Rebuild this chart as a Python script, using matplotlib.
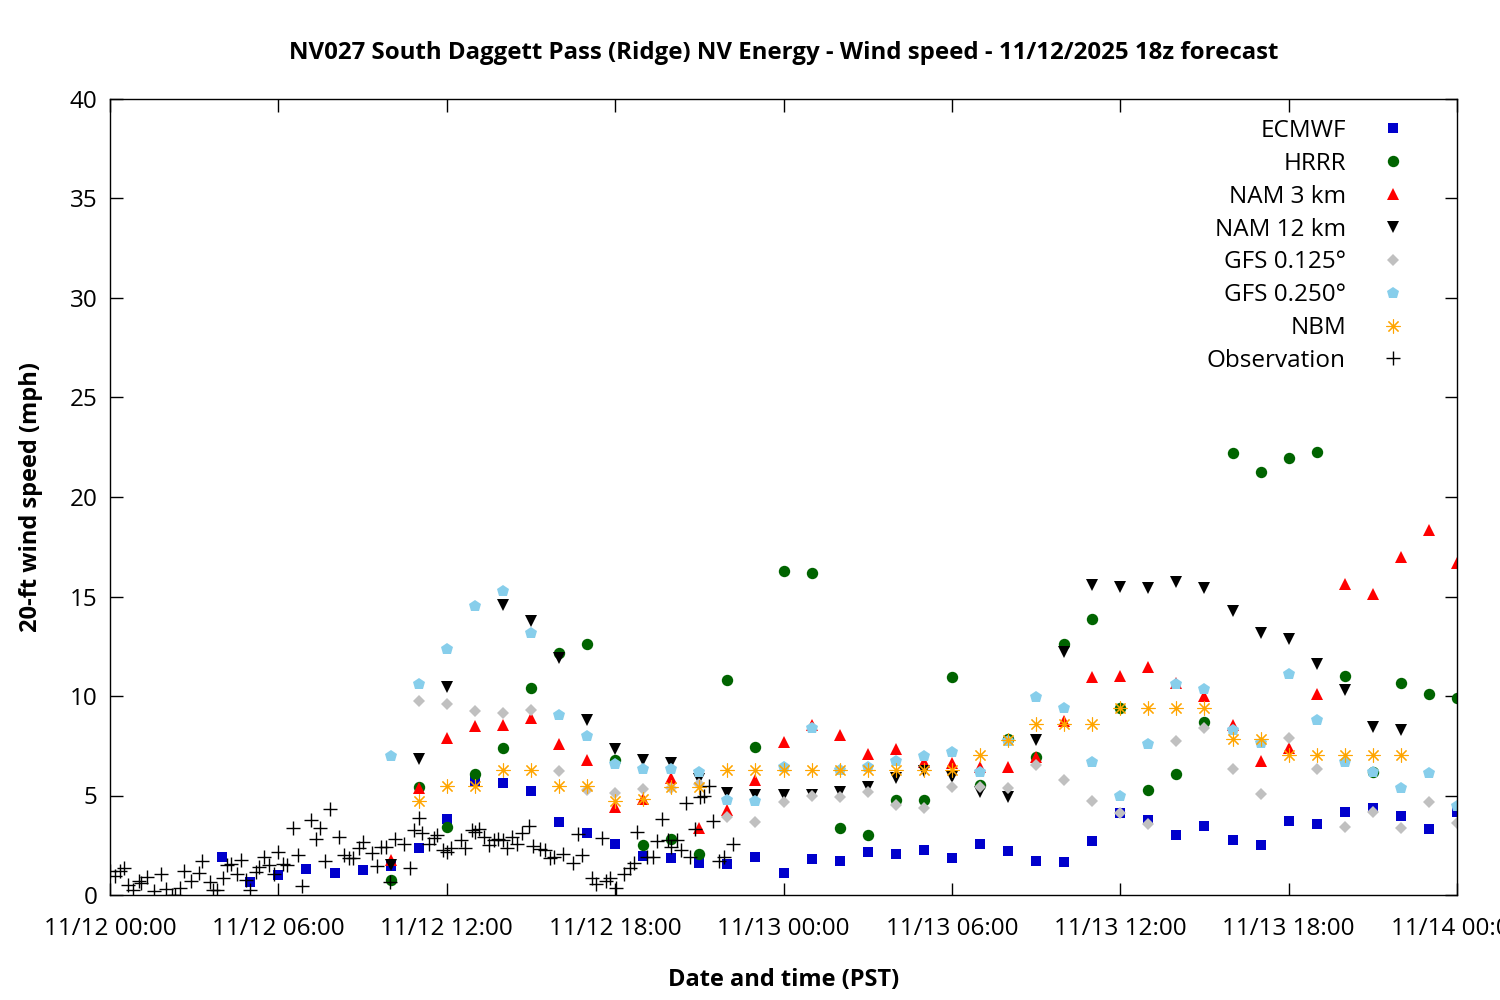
import numpy as np
import pandas as pd
import matplotlib
matplotlib.use('Agg')
import matplotlib.pyplot as plt
import matplotlib.dates as mdates

plt.rcParams['font.family'] = ['Open Sans', 'DejaVu Sans']

# ---------------- data ----------------
base_time = pd.Timestamp('2025-11-12 00:00')

ecmwf_hours = list(range(4, 49))
ecmwf = [1.9, 0.65, 1.0, 1.3, 1.1, 1.25, 1.45, 2.35, 3.8, 5.75, 5.63, 5.23, 3.65, 3.1, 2.56,
         1.98, 1.84, 1.61, 1.56, 1.89, 1.09, 1.79, 1.71, 2.15, 2.06, 2.26, 1.84, 2.55, 2.19,
         1.71, 1.64, 2.71, 4.14, 3.76, 3.0, 3.45, 2.75, 2.5, 3.71, 3.55, 4.16, 4.36, 3.95,
         3.3, 4.16]

hrrr_hours = list(range(10, 49))
hrrr = [0.75, 5.44, 3.42, 6.08, 7.4, 10.4, 12.18, 12.6, 6.78, 2.51, 2.81, 2.06, 10.79, 7.42,
        16.3, 16.2, 3.35, 3.0, 4.77, 4.77, 10.95, 5.53, 7.84, 6.92, 12.6, 13.85, 9.38, 5.28,
        6.06, 8.69, 22.2, 21.24, 21.94, 22.24, 10.99, 6.2, 10.64, 10.08, 9.88]

nam3_hours = list(range(10, 49))
nam3 = [1.76, 5.4, 7.9, 8.5, 8.56, 8.91, 7.6, 6.78, 4.4, 4.82, 5.9, 3.38, 4.27, 5.78, 7.7,
        8.54, 8.04, 7.09, 7.34, 6.7, 6.65, 6.45, 6.45, 6.95, 8.76, 10.97, 11.0, 11.48, 10.67,
        10.0, 8.54, 6.75, 7.37, 10.1, 15.63, 15.13, 17.0, 18.34, 16.7]

nam12_hours = list(range(10, 47))
nam12 = [1.5, 6.85, 10.47, np.nan, 14.57, 13.78, 11.9, 8.78, 7.32, 6.78, 6.65, 5.81, 5.11,
         5.03, 5.03, 5.03, 5.19, 5.44, 5.86, 6.25, 5.91, 5.16, 4.94, 7.77, 12.23, 15.56,
         15.46, 15.41, 15.71, 15.41, 14.29, 13.15, 12.86, 11.59, 10.3, 8.43, 8.29]

gfs125_hours = list(range(11, 49))
gfs125 = [9.75, 9.6, 9.25, 9.13, 9.31, 6.23, 5.28, 5.11, 5.33, 5.36, 5.6, 3.92, 3.65, 4.66,
          5.0, 4.94, 5.16, 4.52, 4.36, 5.44, 5.44, 5.36, 6.52, 5.78, 4.72, 4.13, 3.55, 7.75,
          8.38, 6.32, 5.06, 7.87, 6.32, 3.4, 4.16, 3.35, 4.66, 3.6]

gfs250_hours = list(range(10, 49))
gfs250 = [7.0, 10.6, 12.35, 14.52, 15.26, 13.17, 9.05, 7.97, 6.58, 6.32, 6.35, 6.2, 4.77,
          4.72, 6.45, 8.38, 6.28, 6.45, 6.73, 6.98, 7.19, 6.17, 7.75, 9.97, 9.38, 6.66, 4.97,
          7.59, 10.6, 10.34, 8.29, 7.65, 11.09, 8.79, 6.68, 6.2, 5.36, 6.11, 4.49]

nbm_hours = list(range(11, 47))
nbm = [4.72, 5.46, 5.46, 6.26, 6.26, 5.46, 5.46, 4.7, 4.8, 5.44, 5.44, 6.28, 6.28, 6.28,
       6.28, 6.28, 6.28, 6.28, 6.28, 6.28, 7.04, 7.8, 8.57, 8.57, 8.57, 9.38, 9.38, 9.38,
       9.38, 7.82, 7.82, 7.04, 7.04, 7.04, 7.04, 7.04]

obs_minutes = [0, 10, 22, 31, 38, 50, 61, 67, 79, 94, 110, 119, 132, 139, 149, 158, 174,
               190, 197, 214, 221, 228, 241, 251, 258, 271, 281, 291, 299, 312, 319, 329,
               341, 350, 360, 369, 379, 391, 401, 410, 430, 440, 449, 460, 470, 490, 501,
               511, 520, 532, 541, 560, 570, 580, 590, 599, 610, 629, 641, 650, 660, 668,
               683, 692, 699, 712, 721, 730, 751, 758, 773, 781, 790, 799, 811, 820, 830,
               840, 849, 860, 870, 880, 896, 905, 919, 929, 940, 949, 968, 990, 1001, 1009,
               1031, 1040, 1051, 1061, 1069, 1081, 1100, 1111, 1120, 1127, 1148, 1160, 1170,
               1181, 1192, 1200, 1213, 1220, 1231, 1240, 1250, 1262, 1270, 1281, 1290, 1302,
               1312, 1331]
obs = [1.21, 0.97, 1.21, 1.34, 0.5, 0.25, 0.7, 0.59, 0.92, 0.2, 1.04, 0.3, 0.0, 0.0, 0.33,
       1.21, 0.7, 1.09, 1.71, 0.64, 0.25, 0.25, 0.87, 1.51, 1.54, 1.04, 1.76, 0.75, 0.25,
       1.14, 1.42, 1.92, 1.51, 1.04, 2.14, 1.54, 1.51, 3.35, 2.01, 0.47, 3.77, 2.83, 3.35,
       1.71, 4.32, 2.93, 2.01, 1.88, 1.84, 2.38, 2.68, 2.09, 1.47, 2.43, 2.43, 0.64, 2.81,
       2.55, 1.37, 3.27, 3.85, 3.1, 2.55, 2.85, 3.02, 2.26, 2.18, 2.35, 2.76, 2.35, 3.27,
       3.18, 3.32, 2.93, 2.51, 2.76, 2.81, 2.76, 2.38, 2.93, 2.55, 3.1, 3.45, 2.45, 2.31,
       2.26, 1.88, 1.93, 2.05, 1.59, 3.05, 2.01, 0.87, 0.54, 2.85, 0.7, 0.84, 0.33, 1.04,
       1.34, 1.59, 3.18, 1.89, 1.93, 2.73, 3.8, 2.76, 2.39, 2.76, 2.26, 4.61, 1.93, 3.3,
       4.91, 4.97, 5.48, 3.73, 1.72, 1.89, 2.56]

labels = ['ECMWF', 'HRRR', 'NAM 3 km', 'NAM 12 km', 'GFS 0.125°', 'GFS 0.250°', 'NBM',
          'Observation']
title = 'NV027 South Daggett Pass (Ridge) NV Energy - Wind speed - 11/12/2025 18z forecast'


def to_time(hours):
    return base_time + pd.to_timedelta(hours, unit='h')


# ---------------- figure ----------------
fig = plt.figure(figsize=(15, 10), dpi=100)
ax = fig.add_axes([110 / 1500, 1 - 895 / 1000, (1457 - 110) / 1500, (895 - 99) / 1000])

series = [
    (ecmwf_hours, ecmwf, dict(marker='s', color='#0000cc', ms=6.8)),
    (hrrr_hours, hrrr, dict(marker='o', color='#006400', ms=8.2)),
    (nam3_hours, nam3, dict(marker='^', color='#ff0000', ms=9.0)),
    (nam12_hours, nam12, dict(marker='v', color='#000000', ms=9.0)),
    (gfs125_hours, gfs125, dict(marker='D', color='#c0c0c0', ms=6.4)),
    (gfs250_hours, gfs250, dict(marker='p', color='#87ceeb', ms=9.2)),
]
for (h, v, st), lab in zip(series, labels):
    ax.plot(to_time(h), v, linestyle='none', marker=st['marker'], ms=st['ms'],
            color=st['color'], markeredgewidth=0, label=lab)

ax.plot(to_time(nbm_hours), nbm, linestyle='none', marker=(8, 2, 0), ms=10,
        markeredgecolor='#ffa500', markerfacecolor='none', markeredgewidth=0.8,
        label=labels[6])
ax.plot(base_time + pd.to_timedelta(obs_minutes, unit='m'), obs, linestyle='none',
        marker='+', ms=10, markeredgecolor='black', markeredgewidth=1.0, label=labels[7])

ax.set_xlim(base_time, base_time + pd.Timedelta(hours=48))
ax.set_ylim(0, 40)
ax.set_yticks(np.arange(0, 41, 5))
ax.xaxis.set_major_locator(mdates.HourLocator(byhour=[0, 6, 12, 18]))
ax.xaxis.set_major_formatter(mdates.DateFormatter('%m/%d %H:%M'))

ax.tick_params(direction='in', length=9, width=1, top=True, right=True,
               labelsize=17.5, pad=9)
ax.tick_params(axis='x', pad=16)
for s in ax.spines.values():
    s.set_linewidth(1.0)

ax.set_title(title, fontsize=17.3, fontweight='bold', pad=29)
ax.set_xlabel('Date and time (PST)', fontsize=17, fontweight='bold', labelpad=19)
ax.set_ylabel('20-ft wind speed (mph)', fontsize=17, fontweight='bold', labelpad=19)

leg = ax.legend(loc='upper right', bbox_to_anchor=(0.9618, 0.975), markerfirst=False,
                frameon=False, fontsize=17.5, handlelength=1.0, handletextpad=1.45,
                labelspacing=0.365, borderpad=0, borderaxespad=0)

fig.savefig('out.png', dpi=100)
